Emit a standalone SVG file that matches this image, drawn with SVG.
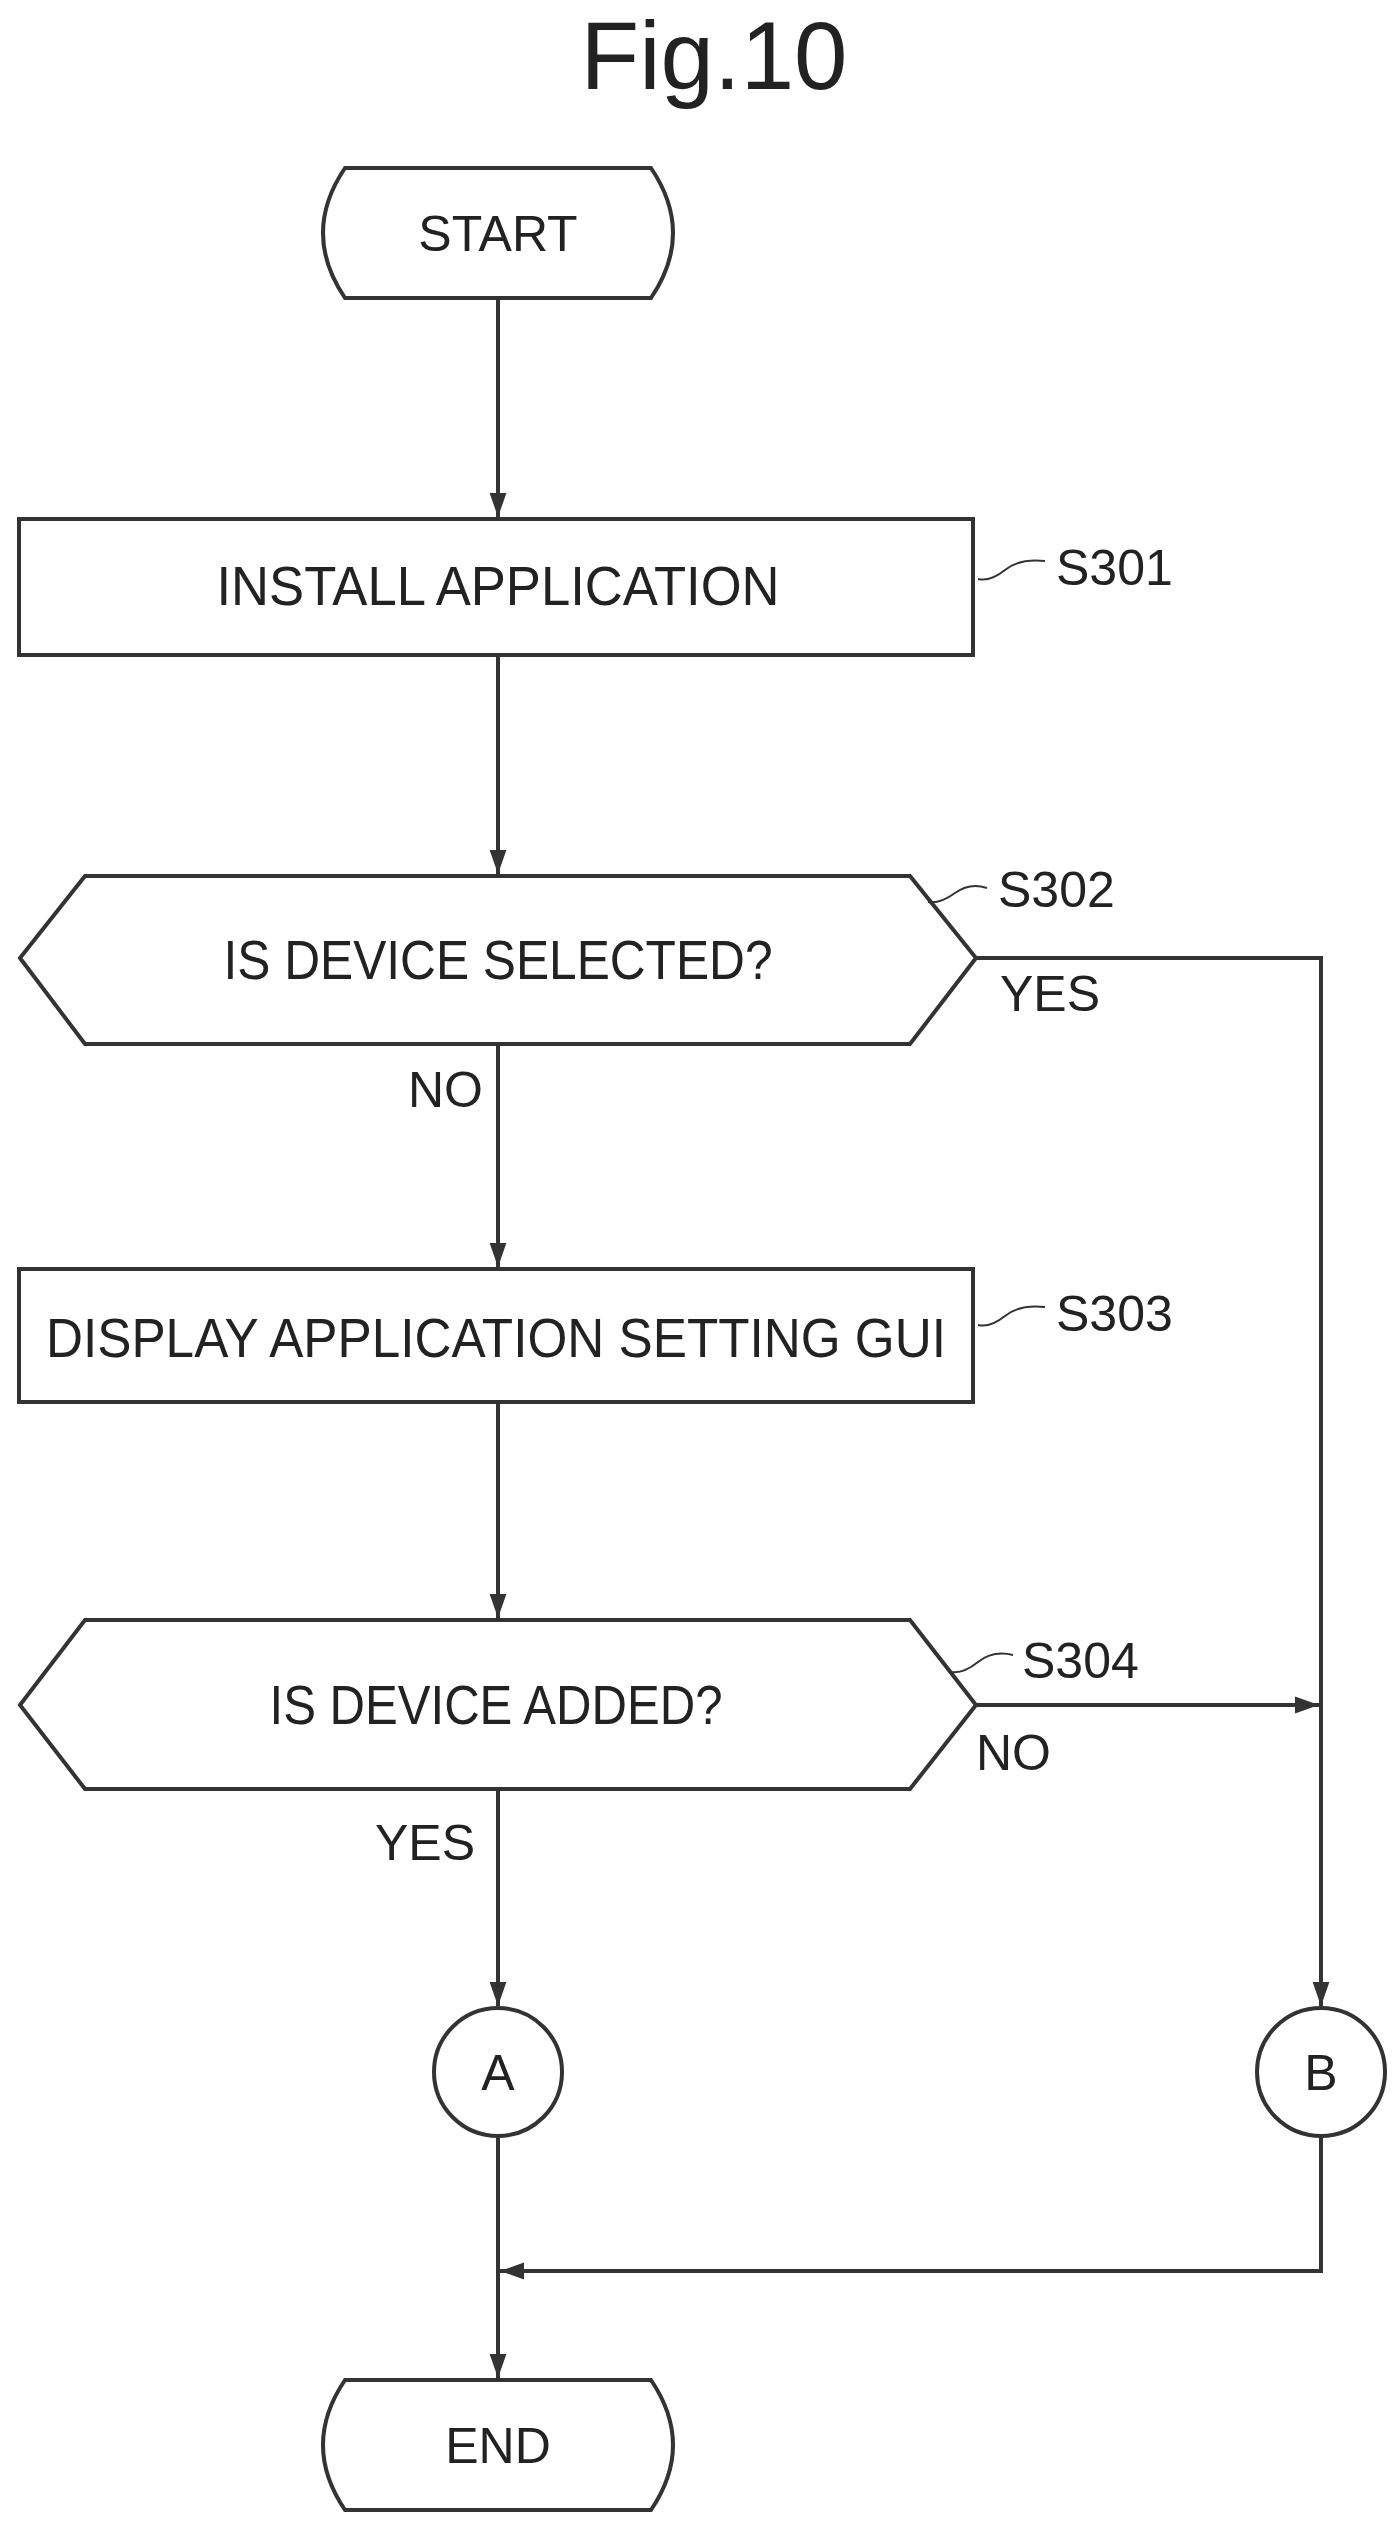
<svg xmlns="http://www.w3.org/2000/svg" width="1399" height="2532" viewBox="0 0 1399 2532">
<style>
.s{fill:#fff;stroke:#333;stroke-width:4}
.c{fill:none;stroke:#333;stroke-width:4}
.q{fill:none;stroke:#333;stroke-width:2}
text{font-family:"Liberation Sans",Arial,sans-serif;font-size:50px;fill:#222}
.m{text-anchor:middle}
</style>
<defs><marker id="ar" viewBox="0 0 10 10" refX="10" refY="5" markerWidth="6" markerHeight="6" orient="auto" markerUnits="strokeWidth"><path d="M0,1.5L10,5L0,8.5z" fill="#333"/></marker></defs>
<text x="714" y="89" class="m" style="font-size:96px">Fig.10</text>
<g id="connectors">
<path class="c" d="M498,298V517" marker-end="url(#ar)"/>
<path class="c" d="M498,655V874" marker-end="url(#ar)"/>
<path class="c" d="M498,1044V1267" marker-end="url(#ar)"/>
<path class="c" d="M498,1402V1618" marker-end="url(#ar)"/>
<path class="c" d="M498,1789V2006" marker-end="url(#ar)"/>
<path class="c" d="M976,958H1321V2006" marker-end="url(#ar)"/>
<path class="c" d="M976,1705H1319" marker-end="url(#ar)"/>
<path class="c" d="M1321,2136V2271H500" marker-end="url(#ar)"/>
<path class="c" d="M498,2136V2378" marker-end="url(#ar)"/>
<text x="1000" y="1011">YES</text>
<text x="408" y="1107">NO</text>
<text x="976" y="1770">NO</text>
<text x="375" y="1860">YES</text>
</g>
<g id="start"><path class="s" d="M345,168H651Q695,233 651,298H345Q301,233 345,168Z"/><text x="498" y="251" class="m">START</text></g>
<g id="s301"><rect class="s" x="19" y="519" width="954" height="136"/><text x="498" y="605" class="m" textLength="563" lengthAdjust="spacingAndGlyphs" style="font-size:56px">INSTALL APPLICATION</text>
<path class="q" d="M978,579Q990,582 1005,570T1045,561"/><text x="1056" y="585">S301</text></g>
<g id="s302"><path class="s" d="M85,876H910L976,958L910,1044H85L20,958Z"/><text x="498" y="979" class="m" textLength="549" lengthAdjust="spacingAndGlyphs" style="font-size:56px">IS DEVICE SELECTED?</text>
<path class="q" d="M928,902Q940,904 955,893T987,888"/><text x="998" y="907">S302</text></g>
<g id="s303"><rect class="s" x="19" y="1269" width="954" height="133"/><text x="496" y="1357" class="m" textLength="900" lengthAdjust="spacingAndGlyphs" style="font-size:56px">DISPLAY APPLICATION SETTING GUI</text>
<path class="q" d="M978,1325Q990,1328 1005,1316T1045,1307"/><text x="1056" y="1331">S303</text></g>
<g id="s304"><path class="s" d="M85,1620H910L976,1705L910,1789H85L20,1705Z"/><text x="496" y="1724" class="m" textLength="453" lengthAdjust="spacingAndGlyphs" style="font-size:56px">IS DEVICE ADDED?</text>
<path class="q" d="M951,1672Q963,1674 978,1662T1013,1655"/><text x="1022" y="1678">S304</text></g>
<g id="a"><circle class="s" cx="498" cy="2072" r="64"/><text x="498" y="2090" class="m">A</text></g>
<g id="b"><circle class="s" cx="1321" cy="2072" r="64"/><text x="1321" y="2090" class="m">B</text></g>
<g id="end"><path class="s" d="M345,2380H651Q695,2445 651,2510H345Q301,2445 345,2380Z"/><text x="498" y="2463" class="m">END</text></g>
</svg>
